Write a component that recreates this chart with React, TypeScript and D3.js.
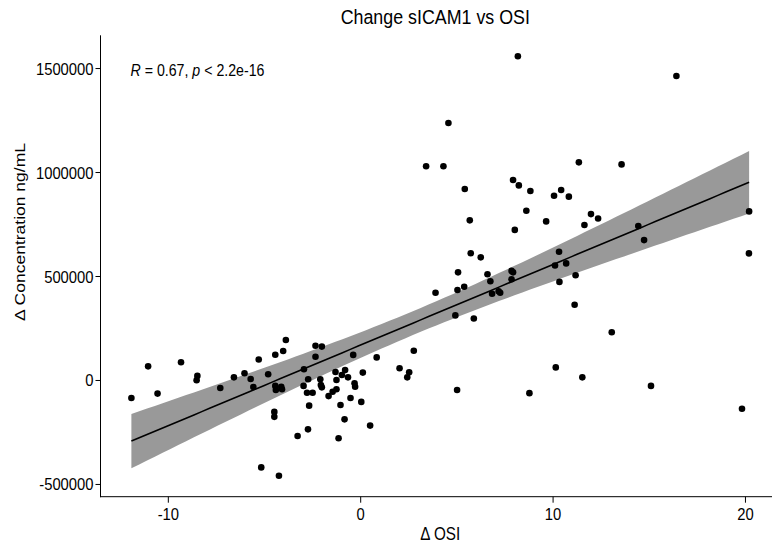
import React from "react";
import * as d3 from "d3";

// change in OSI (x) vs change in sICAM1 concentration (y)
const osiChange = [
  -11.92, -11.05, -10.56, -9.34, -8.49, -8.53, -7.3, -6.59, -6.04, -5.72,
  -5.58, -5.3, -5.17, -4.81, -4.44, -4.03, -3.89, -2.35, -2.02, -2.35,
  -0.39, -2.95, -2.73, -4.44, -4.41, -4.13, -4.09, -2.97, -2.79, -2.5,
  -2.68, -2.1, -2.07, -2.02, -1.67, -1.46, -1.26, -1.31, -1.26, -0.98,
  -0.81, -0.66, -0.32, -0.29, 0.11, -1.05, -0.53, 0.03, -0.84, 0.49,
  -4.49, -4.49, -2.74, -3.28, -1.15, -4.25, 0.83, 2.76, 2.02, 2.52,
  2.42, 3.89, 5.01, 5.03, 5.38, 5.06, 4.92, 5.88, 5.72, 6.24,
  6.59, 6.74, 6.83, 7.17, 7.25, 7.84, 7.92, 7.84, 8.77, 10.1,
  10.68, 10.33, 10.31, 11.17, 11.12, 10.14, 11.52, 13.05, 15.09, 19.82,
  20.18, 20.19, 14.73, 14.43, 13.56, 16.41, 11.97, 12.34, 11.63, 8.17,
  4.56, 4.3, 11.34, 5.41, 7.92, 8.22, 8.82, 10.05, 10.42, 10.82,
  8.61, 5.67, 9.64, 8.01, 3.4,
];
const concChange = [
  -84000, 68000, -63000, 88000, 22000, 1000, -36000, 15000, 35000, 7000,
  -31000, 101000, -418000, 30000, 124000, 142000, 195000, 167000, 163000, 114000,
  123000, 54000, 6000, -26000, -46000, -30000, -42000, -26000, -59000, -59000,
  -121000, 6000, -22000, -33000, -75000, -54000, -42000, 41000, 2000, 26000,
  50000, 15000, -13000, -30000, 38000, -118000, -84000, -103000, -187000, -217000,
  -151000, -175000, -235000, -267000, -278000, -458000, 111000, 143000, 59000, 39000,
  15000, 422000, -46000, 435000, 451000, 520000, 313000, 298000, 612000, 592000,
  511000, 477000, 417000, 429000, 422000, 527000, 520000, 487000, -61000, 553000,
  563000, 474000, 619000, 506000, 364000, 63000, 15000, 232000, -26000, -136000,
  611000, 813000, 675000, 743000, 1039000, 1464000, 800000, 779000, 748000, 1559000,
  1238000, 1030000, 1049000, 921000, 964000, 938000, 911000, 888000, 916000, 884000,
  816000, 770000, 765000, 724000, 1030000,
];
const xTicks = [-10, 0, 10, 20];
const yTicks = [-500000, 0, 500000, 1000000, 1500000];

const FONT = "'Liberation Sans', Arial, sans-serif";
const SQUEEZE = 0.87; // the original picture is a bit narrowed horizontally

const Txt = ({ x, y, size, anchor = "start", rotate = 0, children }: any) => (
  <g
    transform={
      rotate
        ? `translate(${x},${y}) rotate(${rotate}) scale(1,${SQUEEZE})`
        : `translate(${x},${y}) scale(${SQUEEZE},1)`
    }
  >
    <text x={0} y={0} fontSize={size} textAnchor={anchor} fill="#000" fontFamily={FONT}>
      {children}
    </text>
  </g>
);

const expand = (ext: number[]) => {
  const pad = (ext[1] - ext[0]) * 0.05;
  return [ext[0] - pad, ext[1] + pad];
};

const App = () => {
  const width = 772;
  const height = 544;
  const left = 100.5;
  const right = 780; // panel runs past the right edge (cropped in the original)
  const top = 35.3;
  const bottom = 496.7;

  const points = osiChange.map((v, i) => ({ x: v, y: concChange[i] }));

  const x = d3
    .scaleLinear()
    .domain(expand(d3.extent(osiChange) as number[]))
    .range([left, right]);
  const y = d3
    .scaleLinear()
    .domain(expand(d3.extent(concChange) as number[]))
    .range([bottom, top]);

  // linear fit + 95% confidence band (like geom_smooth(method = "lm"))
  const n = points.length;
  const xm = d3.mean(osiChange) as number;
  const ym = d3.mean(concChange) as number;
  const sxx = d3.sum(osiChange, (v) => (v - xm) ** 2);
  const sxy = d3.sum(points, (p) => (p.x - xm) * (p.y - ym));
  const slope = sxy / sxx;
  const icpt = ym - slope * xm;
  const sse = d3.sum(points, (p) => (p.y - (icpt + slope * p.x)) ** 2);
  const s = Math.sqrt(sse / (n - 2));
  const tq = 1.981;

  const [xmin, xmax] = d3.extent(osiChange) as number[];
  const fit = d3.range(80).map((i) => {
    const xv = xmin + ((xmax - xmin) * i) / 79;
    const yv = icpt + slope * xv;
    const se = s * Math.sqrt(1 / n + (xv - xm) ** 2 / sxx);
    return { x: xv, y: yv, lo: yv - tq * se, hi: yv + tq * se };
  });

  const band = d3
    .area<any>()
    .x((d) => x(d.x))
    .y0((d) => y(d.lo))
    .y1((d) => y(d.hi));
  const line = d3
    .line<any>()
    .x((d) => x(d.x))
    .y((d) => y(d.y));

  return (
    <svg
      width={width}
      height={height}
      style={{ position: "absolute", left: 0, top: 0, background: "#fff" }}
    >
      <rect width={width} height={height} fill="#fff" />

      <Txt x={(left + right) / 2 - 5} y={24} size={20.5} anchor="middle">
        Change sICAM1 vs OSI
      </Txt>

      <path d={band(fit) as string} fill="#999999" />
      <path d={line(fit) as string} fill="none" stroke="#000" strokeWidth={1.6} />

      {points.map((p, i) => (
        <circle key={i} cx={x(p.x)} cy={y(p.y)} r={3.3} fill="#000" />
      ))}

      {/* axes */}
      <line x1={left} x2={left} y1={top} y2={bottom + 0.5} stroke="#000" strokeWidth={1} />
      <line x1={left - 0.5} x2={width} y1={bottom} y2={bottom} stroke="#000" strokeWidth={1} />
      {yTicks.map((t) => (
        <g key={t}>
          <line x1={left - 5} x2={left} y1={y(t)} y2={y(t)} stroke="#000" />
          <Txt x={left - 7} y={y(t) + 6} size={17} anchor="end">
            {t}
          </Txt>
        </g>
      ))}
      {xTicks.map((t) => (
        <g key={t}>
          <line x1={x(t)} x2={x(t)} y1={bottom} y2={bottom + 6} stroke="#000" />
          <Txt x={x(t)} y={520} size={17} anchor="middle">
            {t}
          </Txt>
        </g>
      ))}

      <Txt x={(left + right) / 2} y={540} size={17.5} anchor="middle">
        Δ OSI
      </Txt>
      <Txt x={25} y={232} size={17.5} anchor="middle" rotate={-90}>
        Δ Concentration ng/mL
      </Txt>

      <Txt x={130.5} y={76} size={16.3}>
        <tspan fontStyle="italic">R</tspan>
        {" = 0.67, "}
        <tspan fontStyle="italic">p</tspan>
        {" < 2.2e-16"}
      </Txt>
    </svg>
  );
};

export default App;
